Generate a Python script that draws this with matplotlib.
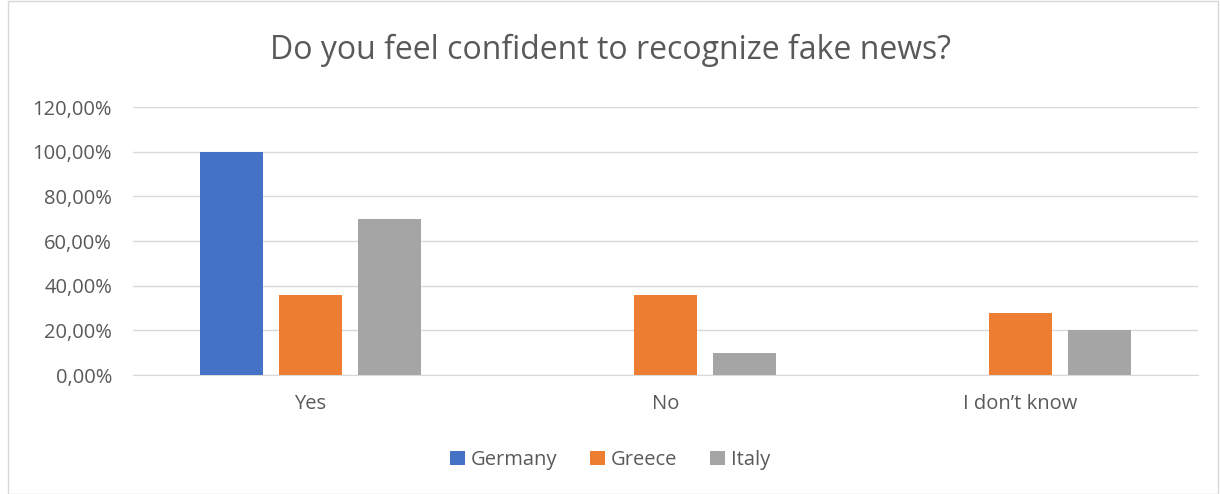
import matplotlib
matplotlib.use("Agg")
import matplotlib.pyplot as plt
import numpy as np
from matplotlib.patches import Rectangle
from matplotlib.ticker import FuncFormatter

categories = ["Yes", "No", "I don\u2019t know"]
series = ["Germany", "Greece", "Italy"]
germany = [100.0, 0.0, 0.0]
greece = [35.71, 35.71, 27.8]
italy = [70.0, 10.0, 20.0]
colors = ["#4472C4", "#ED7D31", "#A5A5A5"]

plt.rcParams["font.family"] = ["Open Sans", "DejaVu Sans"]
txt = "#595959"

fig = plt.figure(figsize=(12.2, 4.94), dpi=100)
ax = fig.add_axes([133 / 1220, 1 - 375 / 494, 1065 / 1220, 268 / 494])

x = np.arange(len(categories))
step, width = 0.222, 0.177
for i, (name, vals) in enumerate(zip(series, [germany, greece, italy])):
    ax.bar(x + (i - 1) * step, vals, width, color=colors[i], label=name, zorder=3)

ax.set_xlim(-0.5, 2.5)
ax.set_ylim(0, 120)
ax.set_yticks(np.arange(0, 121, 20))
ax.yaxis.set_major_formatter(FuncFormatter(lambda v, p: f"{v:.2f}%".replace(".", ",")))
ax.set_xticks(x)
ax.set_xticklabels(categories)
ax.grid(axis="y", color="#D9D9D9", linewidth=1, zorder=0)
for s in ["top", "right", "left"]:
    ax.spines[s].set_visible(False)
ax.spines["bottom"].set_color("#D9D9D9")
ax.tick_params(axis="both", length=0, labelsize=14.5, colors=txt)
ax.tick_params(axis="x", pad=14)
ax.tick_params(axis="y", pad=15)

fig.text(0.5, 1 - 50 / 494, "Do you feel confident to recognize fake news?",
         ha="center", va="center", fontsize=23, color=txt)

handles, labels = ax.get_legend_handles_labels()
fig.legend(handles, labels, loc="center", bbox_to_anchor=(0.5, 1 - 460 / 494),
           ncol=3, frameon=False, fontsize=14.5, labelcolor=txt,
           handlelength=0.75, handleheight=0.75, handletextpad=0.3, columnspacing=1.6)

fig.patches.append(Rectangle((8 / 1220, 0), 1 - 8 / 1220 - 2 / 1220, 1 - 1 / 494,
                             transform=fig.transFigure, fill=False,
                             edgecolor="#D9D9D9", linewidth=1))

fig.savefig("out.png", dpi=100)
